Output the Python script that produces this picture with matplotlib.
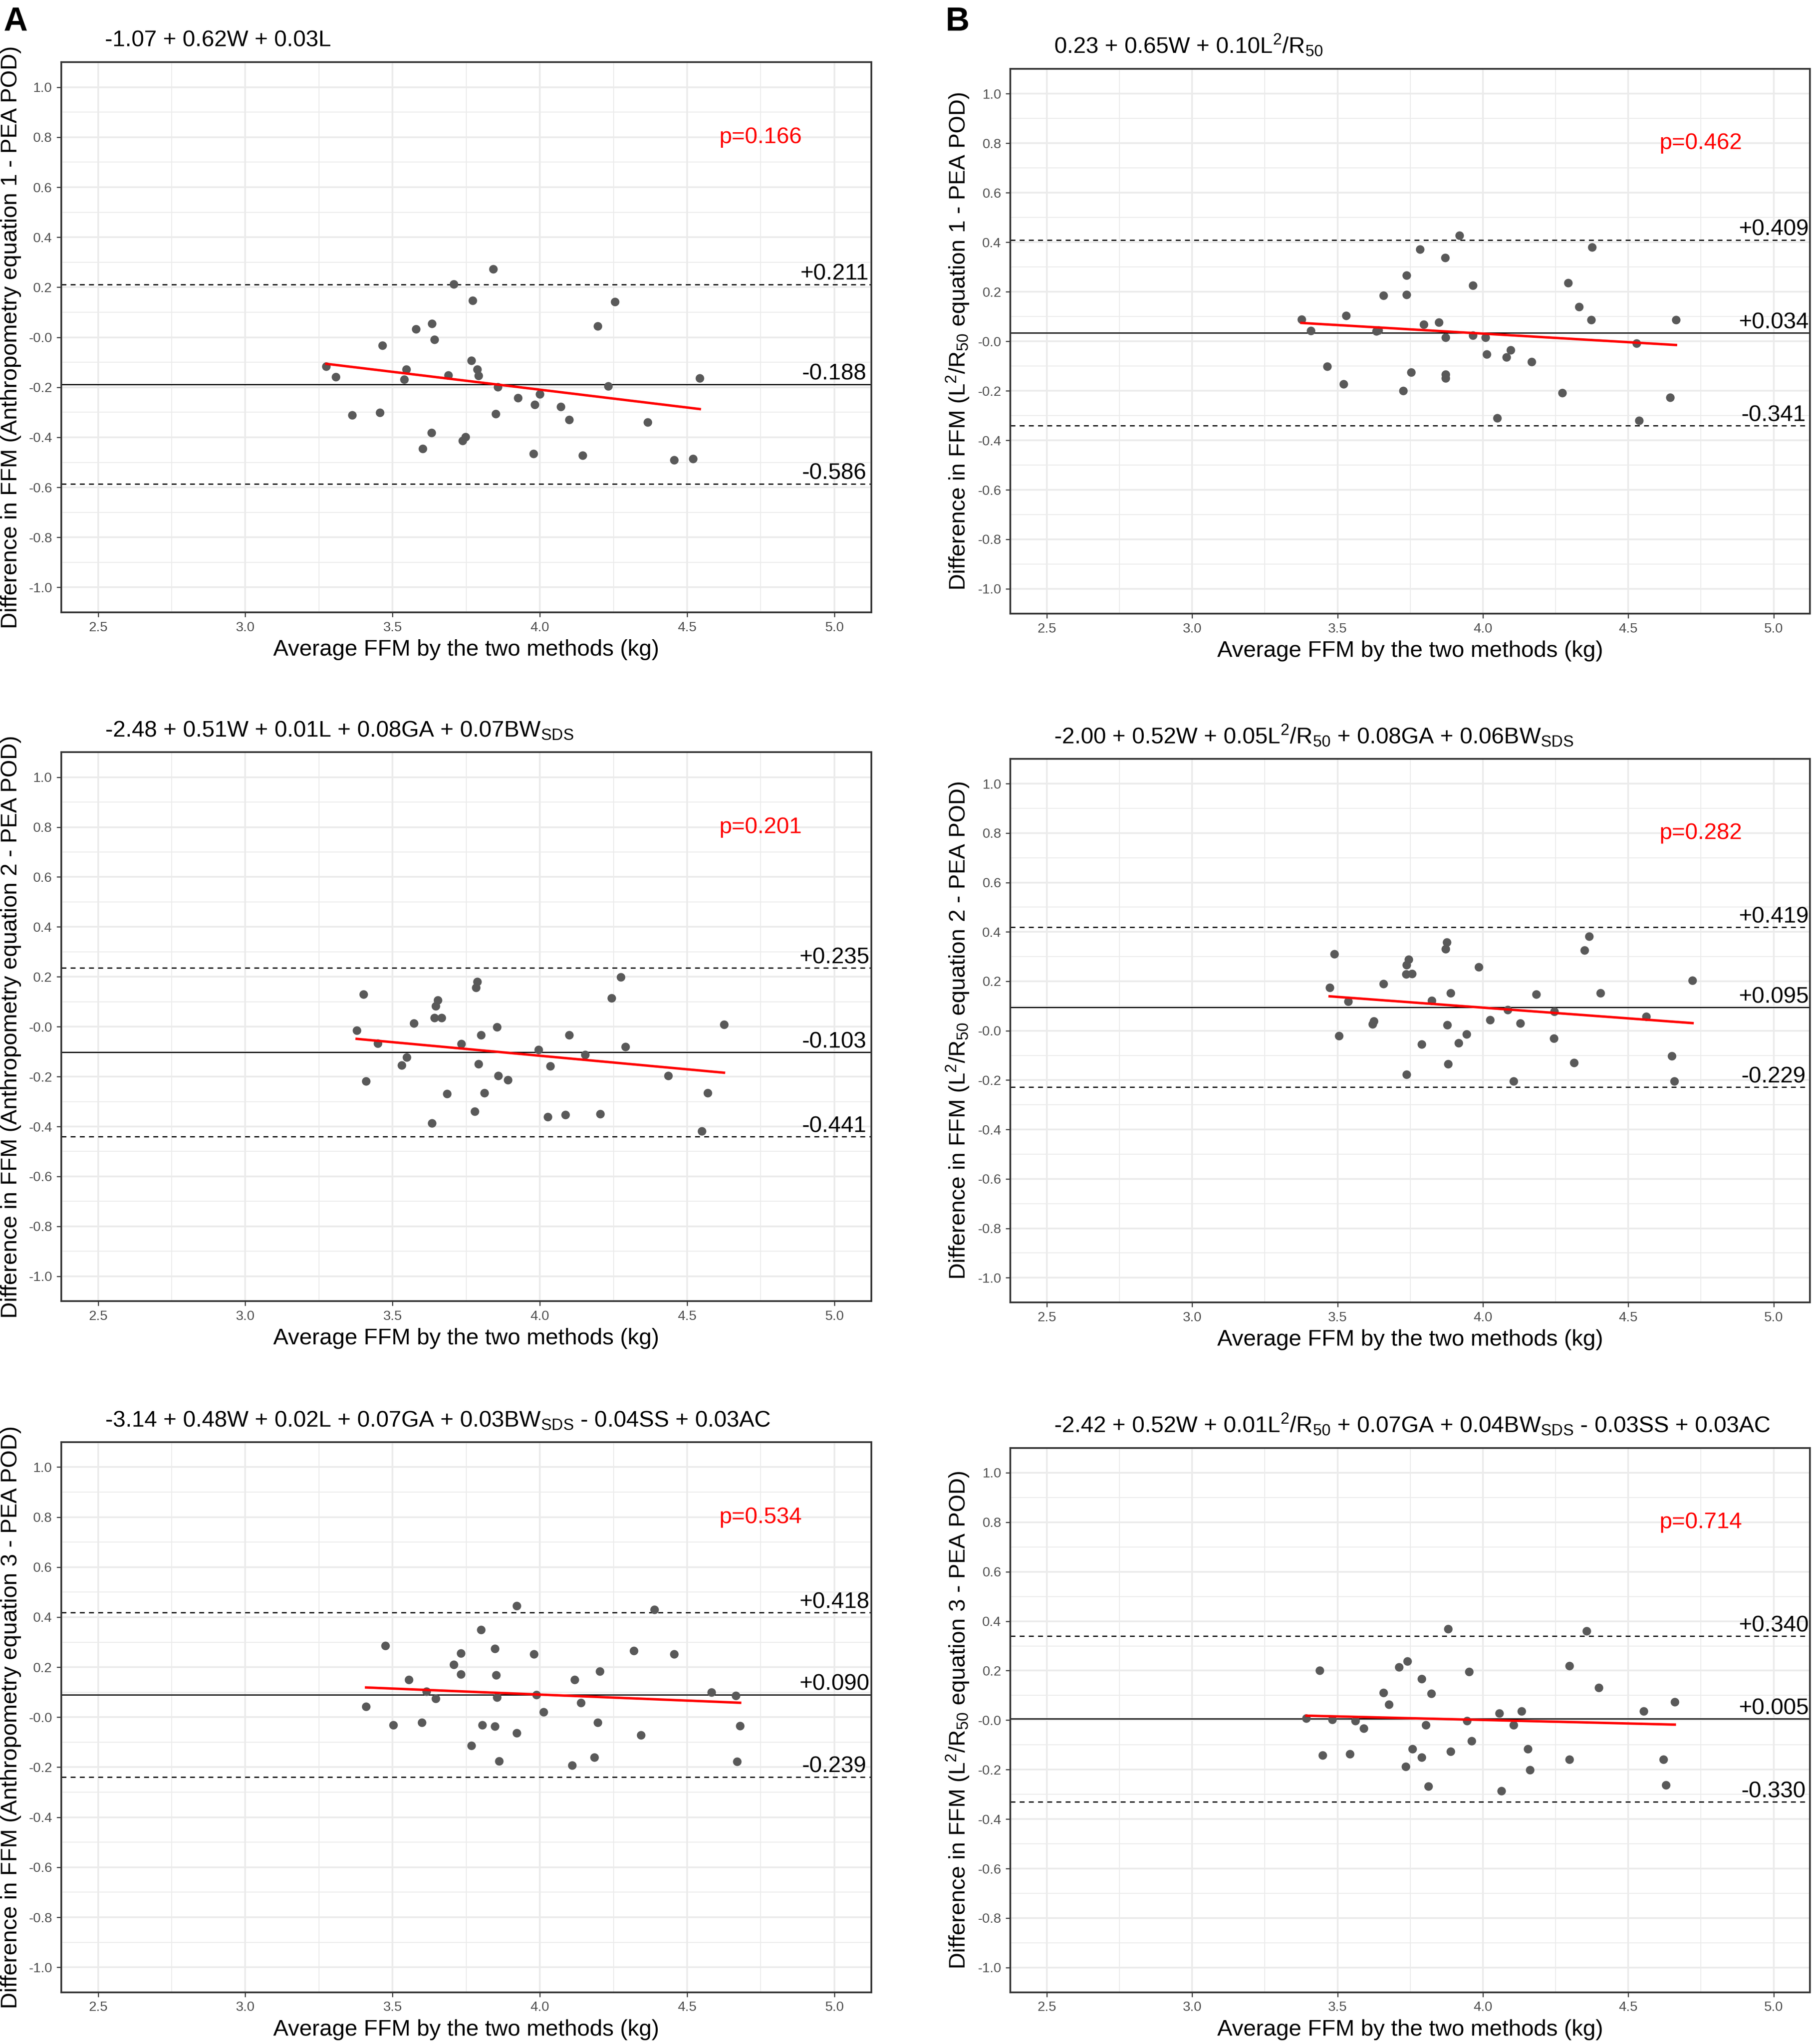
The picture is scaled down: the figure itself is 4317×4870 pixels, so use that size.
import matplotlib
matplotlib.use("Agg")
import matplotlib.pyplot as plt
from matplotlib.ticker import MultipleLocator
import numpy as np

plt.rcParams['font.family'] = ['Liberation Sans', 'DejaVu Sans']
plt.rcParams['mathtext.fontset'] = 'custom'
plt.rcParams['mathtext.rm'] = 'Liberation Sans'
plt.rcParams['mathtext.it'] = 'Liberation Sans'
plt.rcParams['mathtext.default'] = 'rm'
plt.rcParams['axes.unicode_minus'] = False

# ---- data (x = average FFM, y = difference) ----
a1_x = [3.275, 3.307, 3.363, 3.457, 3.465, 3.540, 3.546, 3.580, 3.602, 3.632, 3.634, 3.642, 3.689,
        3.708, 3.737, 3.747, 3.768, 3.772, 3.787, 3.791, 3.842, 3.850, 3.857, 3.926, 3.978, 3.982,
        4.000, 4.071, 4.099, 4.145, 4.197, 4.232, 4.255, 4.366, 4.456, 4.520, 4.543]
a1_y = [-0.116, -0.158, -0.312, -0.301, -0.033, -0.168, -0.129, 0.032, -0.445, -0.382, 0.055, -0.009,
        -0.152, 0.212, -0.414, -0.399, -0.093, 0.147, -0.129, -0.153, 0.272, -0.306, -0.198, -0.242,
        -0.465, -0.269, -0.228, -0.277, -0.330, -0.473, 0.045, -0.195, 0.142, -0.339, -0.491, -0.486,
        -0.163]

b1_x = [3.376, 3.409, 3.465, 3.521, 3.529, 3.633, 3.640, 3.658, 3.726, 3.737, 3.737, 3.754, 3.784,
        3.797, 3.848, 3.870, 3.872, 3.872, 3.872, 3.920, 3.965, 3.965, 4.009, 4.013, 4.049, 4.081,
        4.096, 4.168, 4.273, 4.293, 4.330, 4.373, 4.376, 4.529, 4.537, 4.644, 4.664]
b1_y = [0.088, 0.042, -0.101, -0.172, 0.104, 0.040, 0.044, 0.184, -0.200, 0.188, 0.267, -0.125, 0.372,
        0.068, 0.076, 0.338, 0.015, -0.134, -0.149, 0.428, 0.226, 0.023, 0.015, -0.053, -0.310, -0.064,
        -0.036, -0.083, -0.208, 0.235, 0.139, 0.086, 0.380, -0.009, -0.321, -0.227, 0.086]

a2_x = [3.378, 3.401, 3.410, 3.450, 3.531, 3.548, 3.572, 3.642, 3.646, 3.653, 3.666, 3.634, 3.685,
        3.733, 3.779, 3.783, 3.787, 3.791, 3.800, 3.811, 3.854, 3.858, 3.892, 3.996, 4.027, 4.035,
        4.087, 4.099, 4.153, 4.205, 4.244, 4.275, 4.291, 4.436, 4.550, 4.570, 4.625]
a2_y = [-0.015, 0.129, -0.219, -0.067, -0.155, -0.122, 0.014, 0.036, 0.083, 0.106, 0.036, -0.386,
        -0.269, -0.069, -0.339, 0.156, 0.181, -0.149, -0.034, -0.266, -0.001, -0.196, -0.214, -0.093,
        -0.362, -0.158, -0.353, -0.034, -0.112, -0.349, 0.115, 0.199, -0.080, -0.196, -0.418, -0.266,
        0.008]

b2_x = [3.473, 3.489, 3.505, 3.537, 3.621, 3.625, 3.658, 3.737, 3.745, 3.736, 3.756, 3.737, 3.789,
        3.824, 3.872, 3.876, 3.878, 3.881, 3.889, 3.917, 3.944, 3.985, 4.025, 4.086, 4.105, 4.129,
        4.184, 4.244, 4.246, 4.313, 4.350, 4.365, 4.405, 4.562, 4.650, 4.658, 4.721]
b2_y = [0.175, 0.311, -0.021, 0.119, 0.027, 0.039, 0.190, 0.266, 0.288, 0.228, 0.231, -0.177, -0.055,
        0.121, 0.330, 0.358, 0.024, -0.135, 0.152, -0.049, -0.014, 0.258, 0.043, 0.085, -0.205, 0.030,
        0.147, -0.031, 0.077, -0.130, 0.325, 0.382, 0.152, 0.057, -0.102, -0.205, 0.203]

a3_x = [3.410, 3.476, 3.503, 3.555, 3.599, 3.615, 3.646, 3.708, 3.732, 3.732, 3.768, 3.800, 3.805,
        3.847, 3.847, 3.851, 3.855, 3.862, 3.922, 3.922, 3.980, 3.988, 4.012, 4.110, 4.118, 4.140,
        4.185, 4.197, 4.204, 4.319, 4.343, 4.389, 4.456, 4.582, 4.665, 4.680, 4.669]
a3_y = [0.043, 0.285, -0.031, 0.150, -0.021, 0.103, 0.074, 0.210, 0.256, 0.172, -0.114, 0.349, -0.031,
        0.274, -0.036, 0.169, 0.079, -0.175, 0.446, -0.064, 0.252, 0.090, 0.020, -0.193, 0.150, 0.057,
        -0.160, -0.021, 0.183, 0.266, -0.071, 0.430, 0.252, 0.100, 0.086, -0.035, -0.178]

b3_x = [3.393, 3.438, 3.449, 3.482, 3.542, 3.561, 3.590, 3.658, 3.677, 3.712, 3.734, 3.741, 3.758,
        3.789, 3.789, 3.804, 3.813, 3.822, 3.881, 3.889, 3.946, 3.953, 3.961, 4.057, 4.064, 4.105,
        4.133, 4.154, 4.162, 4.297, 4.297, 4.357, 4.398, 4.553, 4.621, 4.629, 4.660]
b3_y = [0.008, 0.201, -0.142, 0.002, -0.136, -0.002, -0.034, 0.111, 0.064, 0.214, -0.188, 0.238,
        -0.117, 0.167, -0.151, -0.019, -0.267, 0.107, 0.369, -0.126, -0.002, 0.196, -0.085, 0.027,
        -0.286, -0.020, 0.036, -0.117, -0.202, 0.220, -0.159, 0.360, 0.131, 0.036, -0.159, -0.262,
        0.073]

# bias and limits of agreement (mean, upper, lower) and trend p-values
a_stats = [(-0.188, 0.211, -0.586), (-0.103, 0.235, -0.441), (0.090, 0.418, -0.239)]
b_stats = [(0.034, 0.409, -0.341), (0.095, 0.419, -0.229), (0.005, 0.340, -0.330)]
a_pvals = ["p=0.166", "p=0.201", "p=0.534"]
b_pvals = ["p=0.462", "p=0.282", "p=0.714"]

a_titles = ["-1.07 + 0.62W + 0.03L",
            "-2.48 + 0.51W + 0.01L + 0.08GA + 0.07BW$_{SDS}$",
            "-3.14 + 0.48W + 0.02L + 0.07GA + 0.03BW$_{SDS}$ - 0.04SS + 0.03AC"]
b_titles = ["0.23 + 0.65W + 0.10L$^2$/R$_{50}$",
            "-2.00 + 0.52W + 0.05L$^2$/R$_{50}$ + 0.08GA + 0.06BW$_{SDS}$",
            "-2.42 + 0.52W + 0.01L$^2$/R$_{50}$ + 0.07GA + 0.04BW$_{SDS}$ - 0.03SS + 0.03AC"]
a_ylabels = ["Difference in FFM (Anthropometry equation %d - PEA POD)" % i for i in (1, 2, 3)]
b_ylabels = ["Difference in FFM (L$^2$/R$_{50}$ equation %d - PEA POD)" % i for i in (1, 2, 3)]
xlabel = "Average FFM by the two methods (kg)"

a_data = [(a1_x, a1_y), (a2_x, a2_y), (a3_x, a3_y)]
b_data = [(b1_x, b1_y), (b2_x, b2_y), (b3_x, b3_y)]


def draw_panel(ax, x, y, stats, pval, title, ylabel):
    x = np.array(x)
    y = np.array(y)
    mean, upper, lower = stats
    ax.set_xlim(2.375, 5.125)
    ax.set_ylim(-1.1, 1.1)
    ax.xaxis.set_minor_locator(MultipleLocator(0.25))
    ax.yaxis.set_minor_locator(MultipleLocator(0.1))
    yt = np.round(np.arange(-1.0, 1.01, 0.2), 1)
    ax.set_yticks(yt)
    ax.set_yticklabels(["%.1f" % v for v in yt])
    ax.set_xticks([2.5, 3.0, 3.5, 4.0, 4.5, 5.0])
    ax.set_xticklabels(["2.5", "3.0", "3.5", "4.0", "4.5", "5.0"])
    ax.grid(which='major', color='#EBEBEB', linewidth=1.0, zorder=0)
    ax.grid(which='minor', color='#EBEBEB', linewidth=0.55, zorder=0)
    ax.set_axisbelow(True)
    ax.tick_params(which='major', length=2.7, width=0.6, color='#333333',
                   labelsize=7.8, labelcolor='#4D4D4D', pad=2.5)
    ax.tick_params(which='minor', length=0)
    for s in ax.spines.values():
        s.set_color('#333333')
        s.set_linewidth(1.0)

    ax.scatter(x, y, s=24, color='#595959', linewidths=0, zorder=3)
    ax.axhline(mean, color='black', linewidth=0.7, zorder=2)
    ax.axhline(upper, color='black', linewidth=0.7, linestyle=(0, (4, 3.5)), zorder=2)
    ax.axhline(lower, color='black', linewidth=0.7, linestyle=(0, (4, 3.5)), zorder=2)

    slope, icpt = np.polyfit(x, y, 1)
    xs = np.array([x.min(), x.max()])
    ax.plot(xs, icpt + slope * xs, color='red', linewidth=1.4, zorder=4)

    for v in (upper, mean, lower):
        ax.text(5.0, v + 0.042, "%+.3f" % v, ha='center', va='center', fontsize=13, color='black')
    ax.text(4.75, 0.8, pval, ha='center', va='center', fontsize=13, color='red')

    ax.annotate(title, xy=(0, 1), xycoords='axes fraction', xytext=(25, 9),
                textcoords='offset points', ha='left', va='baseline', fontsize=13)
    ax.set_xlabel(xlabel, fontsize=13, labelpad=3)
    ax.set_ylabel(ylabel, fontsize=13, labelpad=4)


fig = plt.figure(figsize=(4317 / 300, 4870 / 300), dpi=300)

a_boxes = [(0.0338, 0.7004, 0.4470, 0.2692), (0.0338, 0.3634, 0.4470, 0.2686),
           (0.0338, 0.0253, 0.4470, 0.2692)]
b_boxes = [(0.5576, 0.6998, 0.4413, 0.2665), (0.5576, 0.3628, 0.4413, 0.2659),
           (0.5576, 0.0253, 0.4413, 0.2663)]

for i in range(3):
    ax = fig.add_axes(a_boxes[i])
    draw_panel(ax, a_data[i][0], a_data[i][1], a_stats[i], a_pvals[i], a_titles[i], a_ylabels[i])
    ax = fig.add_axes(b_boxes[i])
    draw_panel(ax, b_data[i][0], b_data[i][1], b_stats[i], b_pvals[i], b_titles[i], b_ylabels[i])

fig.text(0.0019, 0.9969, "A", fontsize=19, fontweight='bold', ha='left', va='top')
fig.text(0.5219, 0.9969, "B", fontsize=19, fontweight='bold', ha='left', va='top')

fig.savefig("out.png", dpi=300, facecolor='white')
